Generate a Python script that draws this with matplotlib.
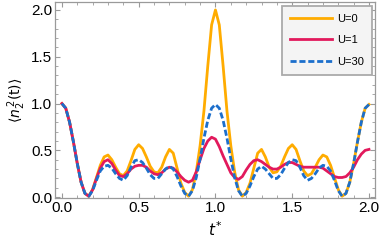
import matplotlib
matplotlib.use("Agg")
import matplotlib.pyplot as plt
import numpy as np
from matplotlib.ticker import MultipleLocator

# time grid (step 0.025)
T = [i * 0.025 for i in range(81)]

U0 = [
    1.00, 0.95, 0.80, 0.59, 0.36, 0.16, 0.04, 0.01, 0.08, 0.21,
    0.34, 0.43, 0.45, 0.40, 0.32, 0.25, 0.23, 0.28, 0.39, 0.51,
    0.56, 0.52, 0.43, 0.33, 0.27, 0.26, 0.32, 0.43, 0.51, 0.47,
    0.31, 0.15, 0.05, 0.01, 0.08, 0.27, 0.55, 0.92, 1.40, 1.84,
    2.00,
    1.84, 1.40, 0.92, 0.55, 0.27, 0.08, 0.01, 0.05, 0.15, 0.31,
    0.47, 0.51, 0.43, 0.32, 0.26, 0.27, 0.33, 0.43, 0.52, 0.56,
    0.51, 0.39, 0.28, 0.23, 0.25, 0.32, 0.40, 0.45, 0.43, 0.34,
    0.21, 0.08, 0.01, 0.04, 0.16, 0.36, 0.59, 0.80, 0.95, 0.99,
]

U1 = [
    1.00, 0.95, 0.80, 0.59, 0.36, 0.16, 0.04, 0.01, 0.08, 0.20,
    0.31, 0.38, 0.40, 0.36, 0.29, 0.23, 0.22, 0.25, 0.30, 0.33,
    0.34, 0.34, 0.32, 0.28, 0.25, 0.24, 0.26, 0.30, 0.32, 0.31,
    0.27, 0.22, 0.18, 0.16, 0.18, 0.27, 0.40, 0.52, 0.60, 0.64,
    0.62,
    0.54, 0.44, 0.35, 0.26, 0.21, 0.19, 0.22, 0.29, 0.35, 0.39,
    0.40, 0.38, 0.35, 0.32, 0.30, 0.30, 0.32, 0.35, 0.37, 0.37,
    0.35, 0.33, 0.32, 0.32, 0.32, 0.32, 0.32, 0.31, 0.28, 0.25,
    0.22, 0.21, 0.21, 0.22, 0.26, 0.32, 0.40, 0.46, 0.50, 0.51,
]

U30 = [
    1.00, 0.95, 0.80, 0.59, 0.36, 0.16, 0.04, 0.01, 0.07, 0.18,
    0.28, 0.33, 0.34, 0.31, 0.25, 0.20, 0.18, 0.23, 0.32, 0.39,
    0.40, 0.37, 0.31, 0.24, 0.20, 0.20, 0.25, 0.30, 0.33, 0.30,
    0.22, 0.12, 0.04, 0.01, 0.07, 0.21, 0.41, 0.63, 0.82, 0.95,
    0.99,
    0.95, 0.82, 0.63, 0.41, 0.21, 0.07, 0.01, 0.04, 0.12, 0.22,
    0.30, 0.33, 0.30, 0.25, 0.20, 0.20, 0.24, 0.31, 0.37, 0.40,
    0.39, 0.32, 0.23, 0.18, 0.20, 0.25, 0.31, 0.34, 0.33, 0.28,
    0.18, 0.07, 0.01, 0.04, 0.16, 0.36, 0.59, 0.80, 0.95, 0.99,
]

LABELS = ["U=0", "U=1", "U=30"]

ORANGE = "#FFAC00"
CRIMSON = "#E2195C"
BLUE = "#1C6FCC"
GREY = "#9a9a9a"

plt.rcParams["font.family"] = ["Liberation Sans", "DejaVu Sans"]

fig = plt.figure(figsize=(3.82, 2.47), dpi=100)
ax = fig.add_axes([0.144, 0.198, 0.838, 0.794])

line_kw = dict(lw=2.0, solid_joinstyle="round", dash_joinstyle="round")
ax.plot(T, U0, color=ORANGE, label=LABELS[0], **line_kw)
ax.plot(T, U1, color=CRIMSON, label=LABELS[1], **line_kw)
ax.plot(T, U30, color=BLUE, dashes=(2.2, 1.0), label=LABELS[2], **line_kw)

ax.set_xlim(-0.045, 2.04)
ax.set_ylim(-0.01, 2.085)

# frame and ticks, all sides, pointing in
for sp in ax.spines.values():
    sp.set_color(GREY)
    sp.set_linewidth(0.9)
ax.xaxis.set_major_locator(MultipleLocator(0.5))
ax.xaxis.set_minor_locator(MultipleLocator(0.1))
ax.yaxis.set_major_locator(MultipleLocator(0.5))
ax.yaxis.set_minor_locator(MultipleLocator(0.1))
ax.tick_params(which="both", direction="in", top=True, right=True,
               color=GREY, labelsize=11, labelcolor="black", pad=2)
ax.tick_params(which="major", length=3.5, width=0.8)
ax.tick_params(which="minor", length=2, width=0.6)
ax.xaxis.set_major_formatter(matplotlib.ticker.FormatStrFormatter("%.1f"))
ax.yaxis.set_major_formatter(matplotlib.ticker.FormatStrFormatter("%.1f"))

ax.set_xlabel(r"$t^{*}$", fontsize=11, labelpad=4)
ax.set_ylabel(r"$\langle n_2^{\,2}(\mathrm{t})\rangle$", fontsize=10, labelpad=2)

leg = ax.legend(loc="upper right", bbox_to_anchor=(0.991, 0.98),
                borderaxespad=0, fontsize=8, handlelength=3.8,
                handletextpad=0.5, labelspacing=1.05, borderpad=0.7,
                fancybox=False, framealpha=1, facecolor="#f4f4f4",
                edgecolor="#aaaaaa")
leg.get_frame().set_linewidth(1.3)

fig.savefig("out.png", dpi=100)
